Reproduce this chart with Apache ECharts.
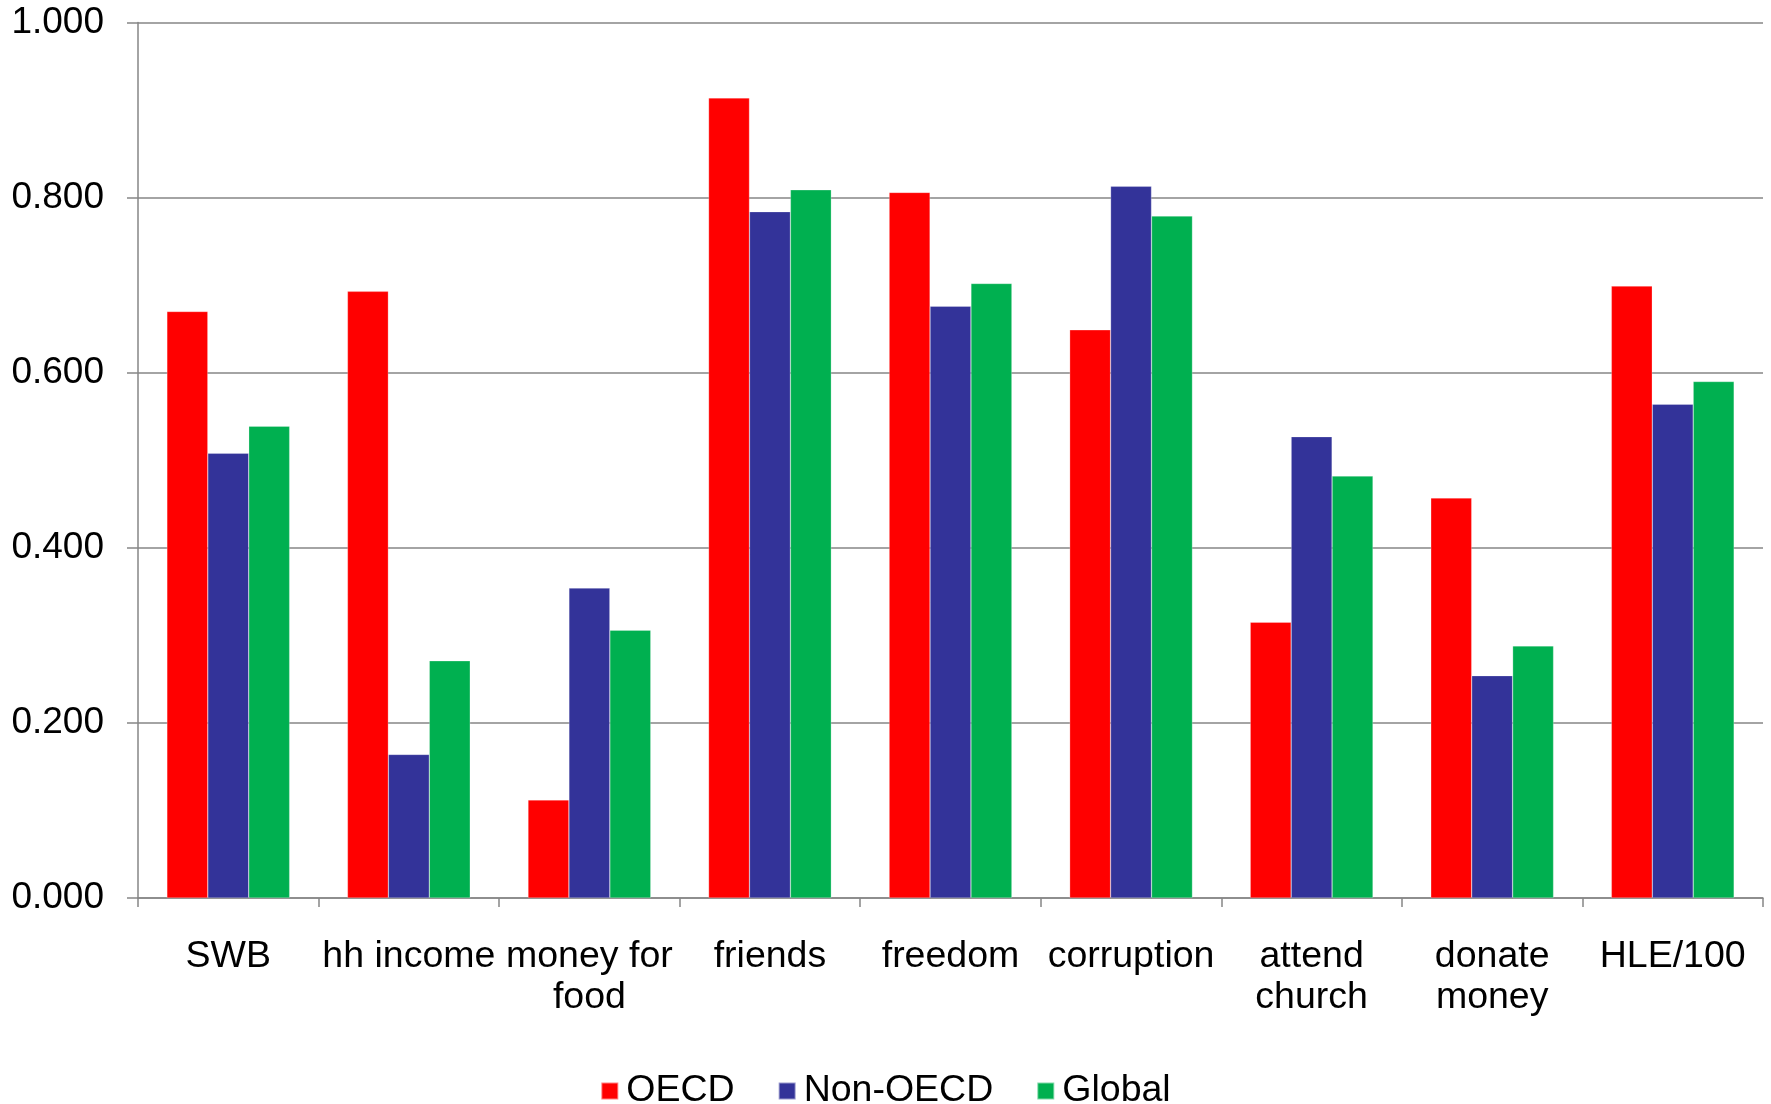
<!DOCTYPE html>
<html>
<head>
<meta charset="utf-8">
<script src="https://cdn.jsdelivr.net/npm/echarts@6/dist/echarts.min.js"></script>
<style>
html,body{margin:0;padding:0;background:#fff;}
#chart{width:1771px;height:1104px;}
</style>
</head>
<body>
<div id="chart"></div>
<script>
const categories = ['SWB', 'hh income', 'money for\nfood', 'friends', 'freedom', 'corruption', 'attend\nchurch', 'donate\nmoney', 'HLE/100'];
const seriesNames = ['OECD', 'Non-OECD', 'Global'];
const oecd    = [0.670, 0.693, 0.112, 0.914, 0.806, 0.649, 0.315, 0.457, 0.699];
const nonOecd = [0.508, 0.164, 0.354, 0.784, 0.676, 0.813, 0.527, 0.254, 0.564];
const globalV = [0.539, 0.271, 0.306, 0.809, 0.702, 0.779, 0.482, 0.288, 0.590];
const yTicks = { min: 0, max: 1, interval: 0.2 };

const colors = ['#FF0000', '#333399', '#00B050'];
const font = "'Liberation Sans', Arial, sans-serif";
const chart = echarts.init(document.getElementById('chart'), null, { renderer: 'canvas' });
const values = [oecd, nonOecd, globalV];

chart.setOption({
  animation: false,
  backgroundColor: '#fff',
  textStyle: { fontFamily: font, color: '#000' },
  grid: { left: 138, right: 8, top: 22.6, bottom: 206, containLabel: false },
  legend: {
    data: seriesNames,
    top: 1067,
    left: 'center',
    itemWidth: 17,
    itemHeight: 17,
    itemGap: 43,
    icon: 'rect',
    textStyle: { fontFamily: font, fontSize: 37.5, color: '#000', padding: [0, 0, 0, 3] }
  },
  xAxis: {
    type: 'category',
    data: categories,
    axisLine: { lineStyle: { color: '#868686', width: 1.5 } },
    axisTick: { show: true, length: 9, lineStyle: { color: '#868686', width: 1.5 } },
    axisLabel: { fontFamily: font, fontSize: 37.5, color: '#000', margin: 38, lineHeight: 41, interval: 0 }
  },
  yAxis: {
    type: 'value',
    min: yTicks.min,
    max: yTicks.max,
    interval: yTicks.interval,
    axisLine: { show: true, lineStyle: { color: '#868686', width: 1.5 } },
    axisTick: { show: true, length: 11, lineStyle: { color: '#868686', width: 1.5 } },
    splitLine: { show: true, lineStyle: { color: '#868686', width: 1.5 } },
    axisLabel: {
      fontFamily: font, fontSize: 37, color: '#000', margin: 34,
      formatter: v => v.toFixed(3)
    }
  },
  series: seriesNames.map((name, i) => ({
    name: name,
    type: 'bar',
    data: values[i],
    barGap: '0%',
    barCategoryGap: '32%',
    itemStyle: { color: colors[i], borderColor: 'rgba(255,255,255,0.5)', borderWidth: 0.5 }
  }))
});
</script>
</body>
</html>
